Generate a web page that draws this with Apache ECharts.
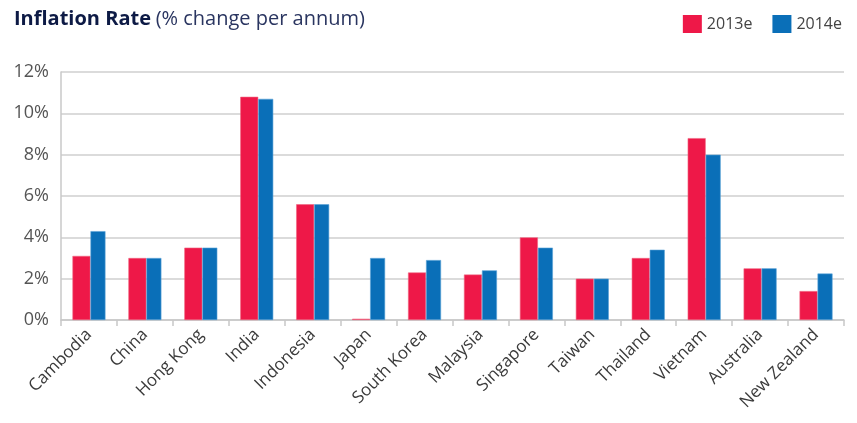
<!DOCTYPE html>
<html>
<head>
<meta charset="utf-8">
<script src="https://cdn.jsdelivr.net/npm/echarts@6/dist/echarts.min.js"></script>
<style>
  html, body { margin: 0; padding: 0; background: #fff; }
  #chart { width: 857px; height: 423px; }
</style>
</head>
<body>
<div id="chart"></div>
<script>
const countries = ["Cambodia", "China", "Hong Kong", "India", "Indonesia", "Japan", "South Korea",
  "Malaysia", "Singapore", "Taiwan", "Thailand", "Vietnam", "Australia", "New Zealand"];
const rate2013 = [3.1, 3.0, 3.5, 10.8, 5.6, 0.06, 2.3, 2.2, 4.0, 2.0, 3.0, 8.8, 2.5, 1.4];
const rate2014 = [4.3, 3.0, 3.5, 10.7, 5.6, 3.0, 2.9, 2.4, 3.5, 2.0, 3.4, 8.0, 2.5, 2.25];
const yTicks = [0, 2, 4, 6, 8, 10, 12];

const font = "'Open Sans', 'Noto Sans', sans-serif";
const chart = echarts.init(document.getElementById("chart"));

const option = {
  animation: false,
  textStyle: { fontFamily: font },
  title: {
    left: 9,
    top: 4,
    text: "{b|Inflation Rate} {n|(% change per annum)}",
    textStyle: {
      rich: {
        b: { fontFamily: font, fontSize: 20, fontWeight: "bold", color: "#0d1a45" },
        n: { fontFamily: font, fontSize: 20, fontWeight: "normal", color: "#2a3560" }
      }
    }
  },
  legend: {
    right: 10,
    top: 10,
    itemWidth: 19,
    itemHeight: 18,
    itemGap: 20,
    icon: "rect",
    itemStyle: { borderWidth: 0 },
    textStyle: { fontSize: 16, color: "#444", fontFamily: font },
    data: ["2013e", "2014e"]
  },
  grid: { left: 61, right: 13, top: 72, bottom: 103 },
  xAxis: {
    type: "category",
    data: countries,
    axisLine: { lineStyle: { color: "#c8c8c8", width: 1.5 } },
    axisTick: { show: true, length: 6, lineStyle: { color: "#c8c8c8", width: 1.5 } },
    axisLabel: {
      rotate: 45,
      fontSize: 17,
      color: "#3a3a3a",
      margin: 12,
      interval: 0
    }
  },
  yAxis: {
    type: "value",
    min: 0,
    max: 12,
    interval: 2,
    axisLine: { show: true, lineStyle: { color: "#c8c8c8", width: 1.5 } },
    axisTick: { show: false },
    splitLine: { lineStyle: { color: "#cfcfcf", width: 1.5 } },
    axisLabel: {
      fontSize: 18,
      color: "#555",
      margin: 12,
      formatter: v => (yTicks.indexOf(v) >= 0 ? v + "%" : "")
    }
  },
  series: [
    {
      name: "2013e",
      type: "bar",
      data: rate2013,
      barWidth: 18,
      barGap: "0%",
      itemStyle: { color: "#ee1848", borderColor: "#f0657f", borderWidth: 0.6 }
    },
    {
      name: "2014e",
      type: "bar",
      data: rate2014,
      barWidth: 15,
      barGap: "0%",
      itemStyle: { color: "#0a6fb8", borderColor: "#5aa2d6", borderWidth: 0.6 }
    }
  ]
};

chart.setOption(option);
</script>
</body>
</html>
